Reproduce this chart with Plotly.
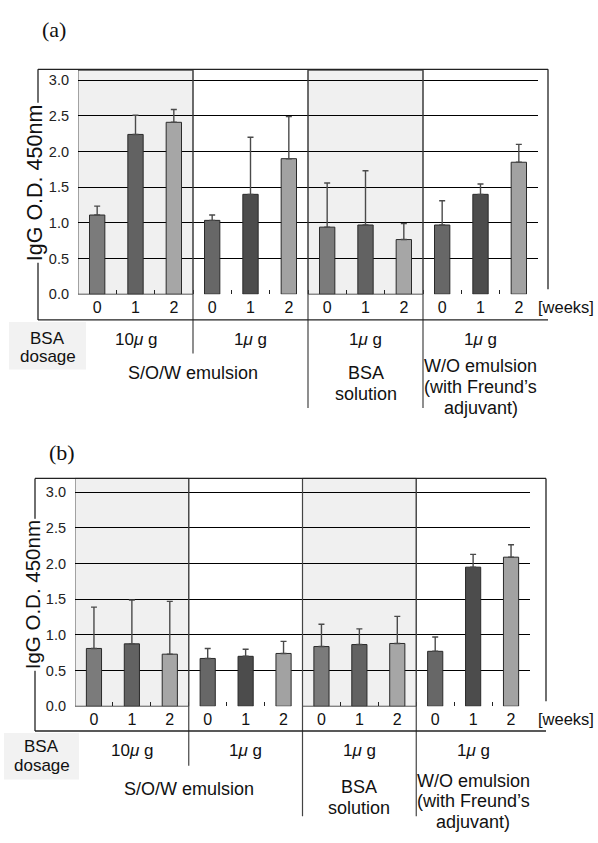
import plotly.graph_objects as go

W, H = 598, 843

# ---------------- data ----------------
weeks = ["0", "1", "2"]
groups = ["S/O/W 10µg", "S/O/W 1µg", "BSA solution 1µg", "W/O emulsion 1µg"]
dosage_labels = ["10<i>μ</i> g", "1<i>μ</i> g", "1<i>μ</i> g", "1<i>μ</i> g"]

igg_a = [1.11, 2.24, 2.41, 1.035, 1.40, 1.90, 0.94, 0.97, 0.766, 0.97, 1.40, 1.85]
sd_a = [0.125, 0.27, 0.18, 0.075, 0.80, 0.59, 0.62, 0.76, 0.224, 0.34, 0.145, 0.25]

igg_b = [0.81, 0.875, 0.73, 0.67, 0.70, 0.74, 0.837, 0.865, 0.88, 0.77, 1.95, 2.09]
sd_b = [0.58, 0.615, 0.74, 0.14, 0.10, 0.17, 0.313, 0.22, 0.38, 0.20, 0.18, 0.175]

y_ticks = [0.0, 0.5, 1.0, 1.5, 2.0, 2.5, 3.0]

# ---------------- styles ----------------
col_shaded = ["#7b7b7b", "#626262", "#a6a6a6"]
col_plain = ["#676767", "#4c4c4c", "#a2a2a2"]
FONT = "Arial"
SERIF = "Liberation Serif"


def X(px):
    return px / W


def Y(py):
    return 1 - py / H


n_cat = len(weeks) * len(groups)
xcat = list(range(n_cat))
bar_colors = []
for g in range(len(groups)):
    bar_colors += (col_shaded if g % 2 == 0 else col_plain)

fig = go.Figure()

panels = [
    dict(vals=igg_a, sd=sd_a, xa="x", ya="y", xname="xaxis", yname="yaxis",
         plot_l=78, plot_r=538, y0px=297, top=71, px_per=72.0,
         frame_l=38, frame_r=548, frame_t=70, frame_b=323, right_end=292,
         label="(a)", label_y=30, label_x=54,
         title_x=35, title_y=185, title_size=21.5,
         cell=(9, 86, 325, 373), bsa_y=342, dos_y=360, dose_y=343,
         div_end=[357, 412], sow_y=377, bsa2_y=(377, 398), wo_y=(370, 391, 412),
         weeks_y=310),
    dict(vals=igg_b, sd=sd_b, xa="x2", ya="y2", xname="xaxis2", yname="yaxis2",
         plot_l=75, plot_r=530, y0px=713, top=483, px_per=72.0,
         frame_l=35, frame_r=546, frame_t=483, frame_b=738, right_end=708,
         label="(b)", label_y=457, label_x=62,
         title_x=32, title_y=601, title_size=20.5,
         cell=(4, 79, 740, 787), bsa_y=754, dos_y=773, dose_y=758,
         div_end=[773, 824], sow_y=797, bsa2_y=(795, 816), wo_y=(788, 809, 830),
         weeks_y=726),
]

shapes = []
annotations = []
layout_axes = {}

for p in panels:
    fig.add_trace(go.Bar(
        x=xcat, y=p["vals"], xaxis=p["xa"], yaxis=p["ya"],
        width=0.4,
        marker=dict(color=bar_colors, line=dict(color="#2a2a2a", width=1)),
        error_y=dict(type="data", symmetric=False, array=p["sd"],
                     arrayminus=[0] * n_cat, color="#4a4a4a",
                     thickness=1.4, width=3),
        showlegend=False, hoverinfo="skip",
    ))
    ytop = (p["y0px"] - p["top"]) / p["px_per"]
    layout_axes[p["xname"]] = dict(
        domain=[X(p["plot_l"]), X(p["plot_r"])],
        range=[-0.5, n_cat - 0.5],
        anchor=p["ya"],
        tickmode="array", tickvals=xcat, ticktext=weeks * len(groups),
        ticks="", showgrid=False, zeroline=False, showline=False,
        tickfont=dict(family=FONT, size=16, color="#111"),
        minor=dict(tickmode="array", tickvals=[i + 0.5 for i in range(n_cat - 1)],
                   ticks="inside", ticklen=4, tickcolor="#222", tickwidth=1,
                   showgrid=False),
        ticklabelstandoff=2,
        fixedrange=True,
    )
    layout_axes[p["yname"]] = dict(
        domain=[Y(p["y0px"]), Y(p["top"])],
        range=[0, ytop],
        anchor=p["xa"],
        tickmode="array", tickvals=y_ticks, tickformat=".1f",
        ticks="", showgrid=True, gridcolor="#000", gridwidth=1,
        zeroline=True, zerolinecolor="rgba(0,0,0,0)",
        showline=False,
        tickfont=dict(family=FONT, size=14.5, color="#222"),
        ticklabelstandoff=8,
        fixedrange=True,
    )

    # shaded groups (1st and 3rd)
    for g in range(len(groups)):
        if g % 2 == 0:
            shapes.append(dict(type="rect", xref=p["xa"], yref=p["ya"] + " domain",
                               x0=g * 3 - 0.5, x1=g * 3 + 2.5, y0=0, y1=1,
                               fillcolor="#f0f0f0", line=dict(color="#555", width=1),
                               layer="below"))
    # group divider lines extending below
    for g in range(1, len(groups)):
        yend = p["div_end"][0] if g == 1 else p["div_end"][1]
        shapes.append(dict(type="line", xref=p["xa"], yref="paper",
                           x0=g * 3 - 0.5, x1=g * 3 - 0.5,
                           y0=Y(p["frame_t"]), y1=Y(yend),
                           line=dict(color="#444", width=1.2), layer="above"))
    # outer frame
    fl, fr, ft, fb = p["frame_l"], p["frame_r"], p["frame_t"], p["frame_b"]
    fcol = dict(color="#222", width=1.3)
    shapes += [
        dict(type="line", xref="paper", yref="paper", x0=X(fl), x1=X(fr), y0=Y(ft), y1=Y(ft), line=fcol),
        dict(type="line", xref="paper", yref="paper", x0=X(fl), x1=X(fl), y0=Y(ft), y1=Y(fb), line=fcol),
        dict(type="line", xref="paper", yref="paper", x0=X(fl), x1=X(fr), y0=Y(fb), y1=Y(fb), line=fcol),
        dict(type="line", xref="paper", yref="paper", x0=X(fr), x1=X(fr), y0=Y(ft), y1=Y(p["right_end"]), line=fcol),
    ]
    # BSA dosage cell
    c = p["cell"]
    shapes.append(dict(type="rect", xref="paper", yref="paper",
                       x0=X(c[0]), x1=X(c[1]), y0=Y(c[2]), y1=Y(c[3]),
                       fillcolor="#f2f2f2", line=dict(width=0), layer="below"))
    cx = (c[0] + c[1]) / 2

    def ann(text, x, y, size, xref="paper", family=FONT, **kw):
        d = dict(text=text, x=x, y=Y(y), xref=xref, yref="paper",
                 showarrow=False, font=dict(family=family, size=size, color="#111"),
                 xanchor="center", yanchor="middle")
        d.update(kw)
        annotations.append(d)

    ann(p["label"], X(p["label_x"]), p["label_y"], 22, family=SERIF)
    ann("IgG O.D. 450nm", X(p["title_x"]), p["title_y"], p["title_size"],
        textangle=-90, bgcolor="white")
    ann("[weeks]", X(536), p["weeks_y"], 16.5, xanchor="left", bgcolor="white")
    ann("BSA", X(cx), p["bsa_y"], 17)
    ann("dosage", X(cx), p["dos_y"], 17)
    for g in range(len(groups)):
        ann(dosage_labels[g], g * 3 + 1, p["dose_y"], 17, xref=p["xa"])
    ann("S/O/W emulsion", 2.5, p["sow_y"], 18, xref=p["xa"])
    ann("BSA", 7, p["bsa2_y"][0], 18, xref=p["xa"])
    ann("solution", 7, p["bsa2_y"][1], 18, xref=p["xa"])
    ann("W/O emulsion", 10, p["wo_y"][0], 18, xref=p["xa"])
    ann("(with Freund\u2019s", 10, p["wo_y"][1], 18, xref=p["xa"])
    ann("adjuvant)", 10, p["wo_y"][2], 18, xref=p["xa"])

fig.update_layout(
    width=W, height=H,
    margin=dict(l=0, r=0, t=0, b=0),
    paper_bgcolor="white", plot_bgcolor="white",
    showlegend=False, bargap=0.6,
    shapes=shapes, annotations=annotations,
    **layout_axes,
)

fig.write_html("out.html",
               config={"displayModeBar": False, "staticPlot": True},
               post_script="document.body.style.margin='0';document.body.style.overflow='hidden';")
